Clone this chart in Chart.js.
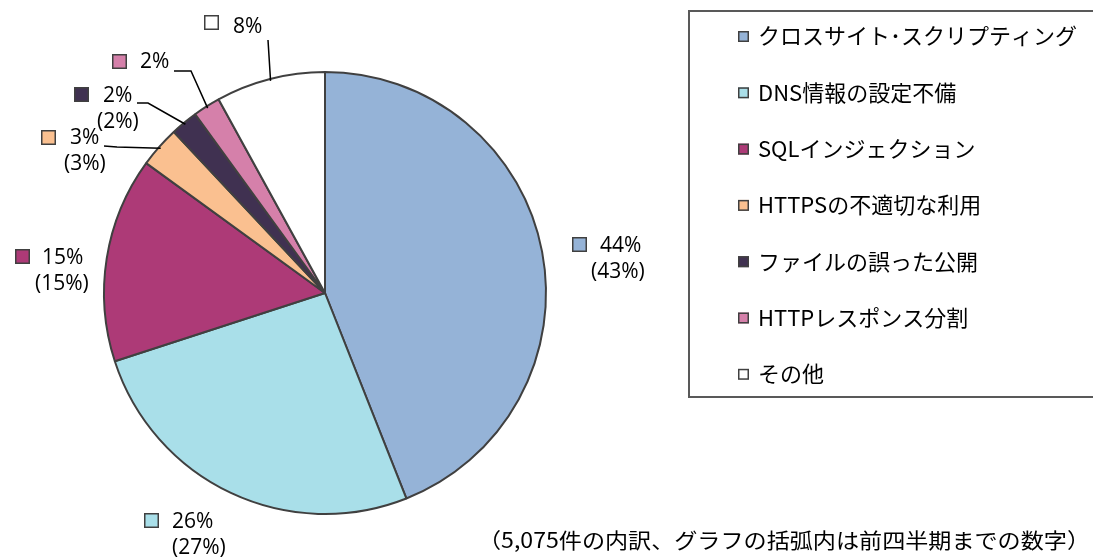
<!DOCTYPE html>
<html>
<head>
<meta charset="utf-8">
<script src="https://cdn.jsdelivr.net/npm/chart.js@4"></script>
<style>
  html, body { margin: 0; padding: 0; background: #fff; }
  #wrap { width: 1093px; height: 560px; }
</style>
</head>
<body>
<div id="wrap"><canvas id="myChart" width="1093" height="560"></canvas></div>
<script>
const categories = ['クロスサイト･スクリプティング', 'DNS情報の設定不備', 'SQLインジェクション',
    'HTTPSの不適切な利用', 'ファイルの誤った公開', 'HTTPレスポンス分割', 'その他'];
const currentShare = [44, 26, 15, 3, 2, 2, 8];
const previousShare = [43, 27, 15, 3, 2, null, null];
const sliceColors = ['#95b3d7', '#a9dfe9', '#ad3a77', '#fac090', '#403151', '#d580aa', '#ffffff'];
const footnote = '（5,075件の内訳、グラフの括弧内は前四半期までの数字）';

// where each slice label sits: colour square, text x, first line y, and optional leader elbow
const labelLayout = [
    { sq: [572, 237], tx: 600, ty: 246, px: 591 },
    { sq: [144, 513], tx: 172, ty: 522, px: 172 },
    { sq: [15, 249], tx: 42, ty: 258, px: 35 },
    { sq: [41, 130], tx: 70, ty: 138, px: 64, lead: [[104, 146], [117, 147]] },
    { sq: [74, 87], tx: 103, ty: 96, px: 97, lead: [[137, 103], [148, 103]] },
    { sq: [112, 54], tx: 140, ty: 62, lead: [[174, 71], [191, 71]] },
    { sq: [204, 15], tx: 233, ty: 27, lead: [[268, 40]] }
];

const FONT = '"Open Sans", "Noto Sans CJK JP", sans-serif';
const JFONT = '"Noto Sans CJK JP", sans-serif';

function square(ctx, x, y, s, fill) {
    ctx.fillStyle = fill;
    ctx.fillRect(x, y, s, s);
    ctx.strokeStyle = '#404040';
    ctx.lineWidth = 1.5;
    ctx.strokeRect(x + 0.75, y + 0.75, s - 1.5, s - 1.5);
}

const decorations = {
    id: 'decorations',
    afterDraw(chart) {
        const ctx = chart.ctx;
        const arcs = chart.getDatasetMeta(0).data;
        ctx.save();

        // slice labels
        ctx.textBaseline = 'middle';
        ctx.font = '21px ' + FONT;
        labelLayout.forEach((l, i) => {
            square(ctx, l.sq[0], l.sq[1], 15, sliceColors[i]);
            ctx.fillStyle = '#000';
            ctx.textAlign = 'left';
            ctx.fillText(currentShare[i] + '%', l.tx, l.ty);
            if (previousShare[i] !== null) {
                ctx.fillText('(' + previousShare[i] + '%)', l.px, l.ty + 26);
            }
            if (l.lead) {
                const p = arcs[i].getProps(['x', 'y', 'startAngle', 'endAngle', 'outerRadius'], true);
                const mid = (p.startAngle + p.endAngle) / 2;
                const r = p.outerRadius - 2;
                ctx.strokeStyle = '#000';
                ctx.lineWidth = 1.5;
                ctx.beginPath();
                ctx.moveTo(l.lead[0][0], l.lead[0][1]);
                l.lead.slice(1).forEach(pt => ctx.lineTo(pt[0], pt[1]));
                ctx.lineTo(p.x + r * Math.cos(mid), p.y + r * Math.sin(mid));
                ctx.stroke();
            }
        });

        // legend box
        ctx.strokeStyle = '#595959';
        ctx.lineWidth = 2;
        ctx.strokeRect(689, 11, 420, 386);
        ctx.font = '22px ' + JFONT;
        categories.forEach((c, i) => {
            const y = 36 + i * 56.3;
            square(ctx, 738, y - 5, 11, sliceColors[i]);
            ctx.fillStyle = '#000';
            ctx.textAlign = 'left';
            ctx.fillText(c, 758, y);
        });

        // footnote, squeezed to the same width as the original
        ctx.font = '21px ' + JFONT;
        ctx.fillStyle = '#000';
        ctx.textAlign = 'left';
        const w = ctx.measureText(footnote).width;
        ctx.translate(478, 540);
        ctx.scale(612 / w, 1);
        ctx.fillText(footnote, 0, 0);
        ctx.restore();
    }
};

new Chart('myChart', {
    type: 'pie',
    data: {
        labels: categories,
        datasets: [{
            data: currentShare,
            backgroundColor: sliceColors,
            borderColor: '#404040',
            borderWidth: 2
        }]
    },
    options: {
        responsive: false,
        animation: false,
        layout: { padding: { left: 103, right: 546, top: 71, bottom: 45 } },
        plugins: {
            legend: { display: false },
            tooltip: { enabled: false }
        }
    },
    plugins: [decorations]
});
</script>
</body>
</html>
